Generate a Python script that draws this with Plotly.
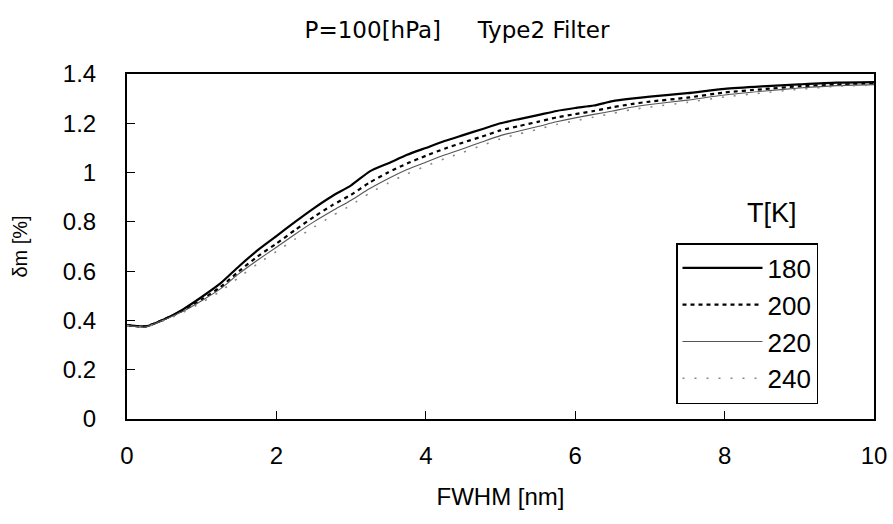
import plotly.graph_objects as go

fwhm = [0, 0.25, 0.5, 0.75, 1, 1.25, 1.5, 1.75, 2, 2.25, 2.5, 2.75, 3, 3.25, 3.5, 3.75,
        4, 4.25, 4.5, 4.75, 5, 5.25, 5.5, 5.75, 6, 6.25, 6.5, 6.75, 7, 7.5, 8, 8.5, 9, 9.5, 10]

t180 = [0.381, 0.376, 0.405, 0.445, 0.495, 0.550, 0.620, 0.685, 0.742, 0.800, 0.855, 0.905,
        0.948, 1.005, 1.038, 1.072, 1.100, 1.128, 1.152, 1.176, 1.200, 1.217, 1.233, 1.250,
        1.262, 1.272, 1.290, 1.300, 1.308, 1.322, 1.340, 1.350, 1.358, 1.365, 1.367]
t200 = [0.381, 0.376, 0.405, 0.440, 0.485, 0.535, 0.600, 0.660, 0.712, 0.767, 0.820, 0.868,
        0.910, 0.960, 1.001, 1.037, 1.068, 1.097, 1.122, 1.146, 1.171, 1.189, 1.206, 1.224,
        1.237, 1.250, 1.265, 1.278, 1.288, 1.304, 1.325, 1.338, 1.350, 1.357, 1.362]
t220 = [0.380, 0.374, 0.403, 0.437, 0.480, 0.528, 0.590, 0.645, 0.697, 0.750, 0.800, 0.845,
        0.888, 0.935, 0.976, 1.012, 1.042, 1.071, 1.097, 1.124, 1.150, 1.169, 1.187, 1.206,
        1.222, 1.236, 1.250, 1.265, 1.276, 1.294, 1.315, 1.330, 1.343, 1.353, 1.357]
t240 = [0.379, 0.373, 0.400, 0.433, 0.473, 0.518, 0.575, 0.630, 0.680, 0.730, 0.778, 0.825,
        0.868, 0.917, 0.958, 0.995, 1.026, 1.056, 1.082, 1.110, 1.137, 1.157, 1.176, 1.195,
        1.210, 1.225, 1.240, 1.255, 1.266, 1.285, 1.307, 1.323, 1.338, 1.350, 1.355]

series_names = ["180", "200", "220", "240"]
x_ticks = [0, 2, 4, 6, 8, 10]
y_ticks = [0, 0.2, 0.4, 0.6, 0.8, 1.0, 1.2, 1.4]
y_tick_text = ["0", "0.2", "0.4", "0.6", "0.8", "1", "1.2", "1.4"]

FONT = "Liberation Sans, Arial, sans-serif"
TFONT = "DejaVu Sans, sans-serif"

styles = [
    dict(color="black", width=2.2, dash="solid"),
    dict(color="black", width=2.2, dash="4px,4px"),
    dict(color="#555555", width=1.1, dash="solid"),
    dict(color="#888888", width=1.6, dash="2px,10px"),
]

fig = go.Figure()
for name, ys, st in zip(series_names, [t180, t200, t220, t240], styles):
    fig.add_trace(go.Scatter(x=fwhm, y=ys, mode="lines", name=name,
                             line=dict(shape="spline", smoothing=0.6, **st)))

fig.update_layout(
    width=893, height=524,
    margin=dict(l=127, r=19, t=74, b=105, autoexpand=False),
    paper_bgcolor="white", plot_bgcolor="white",
    font=dict(family=FONT, color="black"),
    title=dict(text="P=100[hPa]\u00a0\u00a0\u00a0\u00a0 Type2 Filter", x=457 / 893,
               xanchor="center", y=1 - 30 / 524, yanchor="middle",
               font=dict(size=23, family=TFONT)),
    showlegend=True,
    legend=dict(x=(676 - 127) / 747, y=(419 - 243) / 345, xanchor="left", yanchor="top",
                bordercolor="black", borderwidth=1.5, bgcolor="white",
                font=dict(size=26, family=FONT), itemwidth=80, tracegroupgap=4),
    annotations=[dict(text="T[K]", x=(772 - 127) / 747, y=(419 - 213) / 345,
                      xref="paper", yref="paper", xanchor="center", yanchor="middle",
                      showarrow=False, font=dict(size=27, family=FONT))],
)

fig.update_xaxes(range=[0, 10], tickvals=x_ticks, ticks="inside", ticklen=8,
                 tickwidth=1, tickcolor="black", showline=True, linecolor="black",
                 linewidth=2, mirror=True, showgrid=False, zeroline=False,
                 automargin=False,
                 tickfont=dict(size=24, family=FONT), ticklabelstandoff=14,
                 title=dict(text="FWHM [nm]", font=dict(size=24, family=FONT), standoff=20))
fig.update_yaxes(range=[0, 1.4], tickvals=y_ticks, ticktext=y_tick_text, ticks="inside",
                 ticklen=8, tickwidth=1, tickcolor="black", showline=True,
                 linecolor="black", linewidth=2, mirror=True, showgrid=False,
                 zeroline=False, automargin=False,
                 tickfont=dict(size=24, family=FONT), ticklabelstandoff=24,
                 title=dict(text="δm [%]", font=dict(size=20, family=FONT), standoff=30))

fig.write_html(
    "out.html",
    config={"displayModeBar": False},
    post_script="document.body.style.margin='0';document.body.style.overflow='hidden';",
)
